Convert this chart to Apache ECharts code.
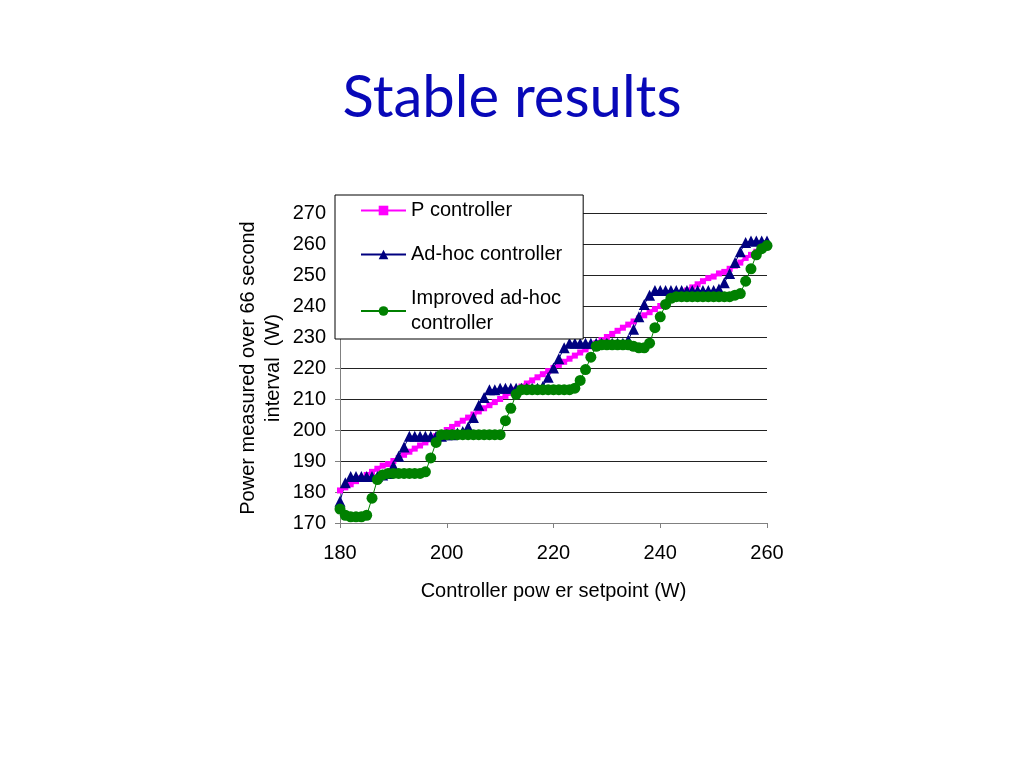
<!DOCTYPE html>
<html>
<head>
<meta charset="utf-8">
<script src="https://cdn.jsdelivr.net/npm/echarts@6/dist/echarts.min.js"></script>
<style>
html,body{margin:0;padding:0;background:#fff;}
#chart{width:1024px;height:768px;}
</style>
</head>
<body>
<div id="chart"></div>
<script>
const setpoints = [180,181,182,183,184,185,186,187,188,189,190,191,192,193,194,195,196,197,198,199,200,201,202,203,204,205,206,207,208,209,210,211,212,213,214,215,216,217,218,219,220,221,222,223,224,225,226,227,228,229,230,231,232,233,234,235,236,237,238,239,240,241,242,243,244,245,246,247,248,249,250,251,252,253,254,255,256,257,258,259,260];

const pController = [180.5,181.5,182.5,183.5,184.5,185.5,186.5,187.5,188.5,189,190,191,192,193,194,195,196,197,198,199,200,201,202,203,204,205,206,207,208,209,210,211,212,213,214,215,216,217,218,219,220,221,222,223,224,225,226,227,228,229,230,231,232,233,234,235,236,237,238,239,240,241,242,243,244,245,246,247,248,249,249.5,250.5,251,252,253,254,255.5,256.5,257.5,258.5,259.5];

const adHoc = [177,183,185,185,185,185,185,185,185.5,186,188.5,191.5,194.5,198,198,198,198,198,198,198,198.5,198.5,199,199.5,201,204,208,210.5,213,213,213.5,213.5,213.5,213.5,213.5,213.5,213.5,213.5,214,217,220,223,226.5,228,228,228,228,228,228,228,228,228,228,228,229,232.5,236.5,240.5,243.5,245,245,245,245,245,245,245,245,245,245,245,245,245.5,247.5,250.5,254,257.5,260.5,261,261,261,261];

const improved = [174.5,172.5,172,172,172,172.5,178,184,185.5,186,186,186,186,186,186,186,186.5,191,196,198.5,198.5,198.5,198.5,198.5,198.5,198.5,198.5,198.5,198.5,198.5,198.5,203,207,211.5,213,213,213,213,213,213,213,213,213,213,213.5,216,219.5,223.5,227,227.5,227.5,227.5,227.5,227.5,227.5,227,226.5,226.5,228,233,236.5,240.5,242.5,243,243,243,243,243,243,243,243,243,243,243,243.5,244,248,252,256.5,258.5,259.5];

const seriesNames = ['P controller', 'Ad-hoc controller', 'Improved ad-hoc\ncontroller'];

function pairs(vals){ return setpoints.map((x,i)=>[x, vals[i]]); }

const chart = echarts.init(document.getElementById('chart'));
const font = 'Liberation Sans, Arial, sans-serif';
chart.setOption({
  animation: false,
  backgroundColor: '#ffffff',
  title: {
    text: 'Stable results',
    left: 'center',
    top: 64,
    textStyle: {fontFamily: 'Lato', fontWeight: 'normal', fontSize: 58, color: '#0808b8'}
  },
  legend: {
    orient: 'vertical',
    left: 335,
    top: 195,
    padding: [3, 21, 3, 25],
    itemGap: 19,
    itemWidth: 45,
    itemHeight: 12,
    backgroundColor: '#ffffff',
    borderColor: '#000000',
    borderWidth: 1,
    textStyle: {fontFamily: font, fontSize: 20, color: '#000', lineHeight: 25},
    data: seriesNames
  },
  grid: {left: 340, right: 257, top: 213, bottom: 245},
  xAxis: {
    type: 'value', min: 180, max: 260, interval: 20,
    name: 'Controller pow er setpoint (W)',
    nameLocation: 'middle', nameGap: 58,
    nameTextStyle: {fontFamily: font, fontSize: 20, color: '#000'},
    axisLine: {show: true, lineStyle: {color: '#808080', width: 1}},
    axisTick: {show: true, length: 5, inside: false, lineStyle: {color: '#808080'}},
    axisLabel: {fontFamily: font, fontSize: 20, color: '#000', margin: 20},
    splitLine: {show: false}
  },
  yAxis: {
    type: 'value', min: 170, max: 270, interval: 10,
    name: 'Power measured over 66 second\ninterval  (W)',
    nameLocation: 'middle', nameGap: 54, nameRotate: 90,
    nameTextStyle: {fontFamily: font, fontSize: 20, color: '#000', lineHeight: 25},
    axisLine: {show: true, lineStyle: {color: '#808080', width: 1}},
    axisTick: {show: true, length: 5, inside: false, lineStyle: {color: '#808080'}},
    axisLabel: {fontFamily: font, fontSize: 20, color: '#000', margin: 14},
    splitLine: {show: true, lineStyle: {color: '#222222', width: 1}}
  },
  series: [
    {
      name: seriesNames[0], type: 'line', data: pairs(pController),
      symbol: 'rect', symbolSize: 6,
      lineStyle: {color: '#ff00ff', width: 3},
      itemStyle: {color: '#ff00ff'}
    },
    {
      name: seriesNames[1], type: 'line', data: pairs(adHoc),
      symbol: 'triangle', symbolSize: 11,
      lineStyle: {color: '#000080', width: 1},
      itemStyle: {color: '#000080'}
    },
    {
      name: seriesNames[2], type: 'line', data: pairs(improved),
      symbol: 'circle', symbolSize: 11,
      lineStyle: {color: '#008000', width: 1},
      itemStyle: {color: '#008000'}
    }
  ]
});
</script>
</body>
</html>
